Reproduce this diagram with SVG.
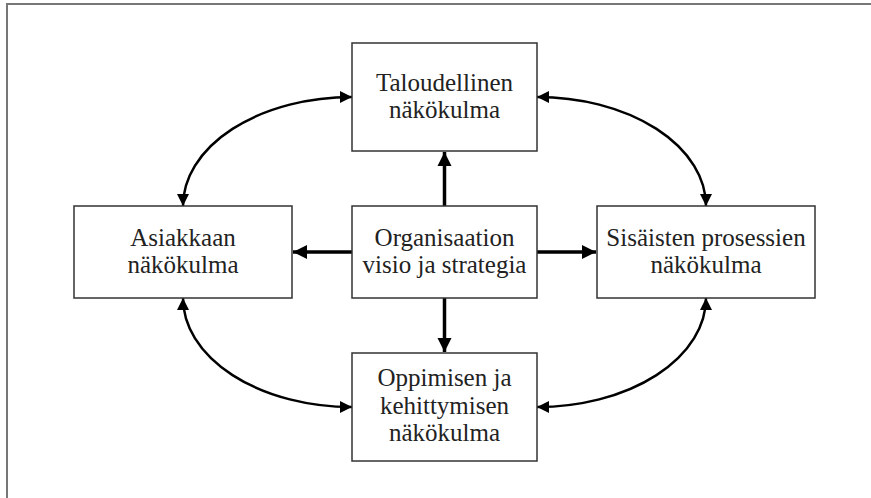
<svg xmlns="http://www.w3.org/2000/svg" width="871" height="498" viewBox="0 0 871 498">
<style>
.box{fill:#fff;stroke:#333;stroke-width:1.5}
.t{font-size:25px;fill:#222;text-anchor:middle}
.s{fill:none;stroke:#000;stroke-width:3.5}
.c{fill:none;stroke:#000;stroke-width:2.5}
</style>
<defs>
<marker id="ah" markerUnits="userSpaceOnUse" markerWidth="16" markerHeight="16" viewBox="0 0 16 16" refX="15" refY="8" orient="auto-start-reverse">
<path d="M1,1 L15,8 L1,15 Z" fill="#000"/>
</marker>
<marker id="ac" markerUnits="userSpaceOnUse" markerWidth="14" markerHeight="14" viewBox="0 0 14 14" refX="13" refY="7" orient="auto-start-reverse">
<path d="M1,1 L13,7 L1,13 Z" fill="#000"/>
</marker>
</defs>
<rect width="871" height="498" fill="#fff"/>
<path d="M7,498 V4 H871" fill="none" stroke="#777" stroke-width="2"/>
<g id="connectors">
<line class="s" x1="444.5" y1="206" x2="444.5" y2="152" marker-end="url(#ah)"/>
<line class="s" x1="444.5" y1="298" x2="444.5" y2="352" marker-end="url(#ah)"/>
<line class="s" x1="352" y1="252" x2="293" y2="252" marker-end="url(#ah)"/>
<line class="s" x1="537" y1="252" x2="596" y2="252" marker-end="url(#ah)"/>
<path class="c" d="M183,206 A169,109 0 0 1 352,97" marker-start="url(#ac)" marker-end="url(#ac)"/>
<path class="c" d="M537,97 A169,109 0 0 1 706,206" marker-start="url(#ac)" marker-end="url(#ac)"/>
<path class="c" d="M706,298 A169,109 0 0 1 537,407" marker-start="url(#ac)" marker-end="url(#ac)"/>
<path class="c" d="M352,407 A169,109 0 0 1 183,298" marker-start="url(#ac)" marker-end="url(#ac)"/>
</g>
<g font-family="Liberation Serif, Times New Roman, serif">
<g id="taloudellinen">
<rect class="box" x="352" y="43" width="185" height="108"/>
<text class="t" x="444.5" y="90.5">Taloudellinen</text>
<text class="t" x="444.5" y="118">näkökulma</text>
</g>
<g id="organisaatio">
<rect class="box" x="352" y="206" width="185" height="92"/>
<text class="t" x="444.5" y="245.5">Organisaation</text>
<text class="t" x="444.5" y="273">visio ja strategia</text>
</g>
<g id="asiakas">
<rect class="box" x="74" y="206" width="218" height="92"/>
<text class="t" x="183" y="245.5">Asiakkaan</text>
<text class="t" x="183" y="273">näkökulma</text>
</g>
<g id="prosessit">
<rect class="box" x="597" y="206" width="218" height="92"/>
<text class="t" x="706" y="245.5">Sisäisten prosessien</text>
<text class="t" x="706" y="273">näkökulma</text>
</g>
<g id="oppiminen">
<rect class="box" x="352" y="353" width="185" height="108"/>
<text class="t" x="444.5" y="386">Oppimisen ja</text>
<text class="t" x="444.5" y="413.5">kehittymisen</text>
<text class="t" x="444.5" y="441">näkökulma</text>
</g>
</g>
</svg>
